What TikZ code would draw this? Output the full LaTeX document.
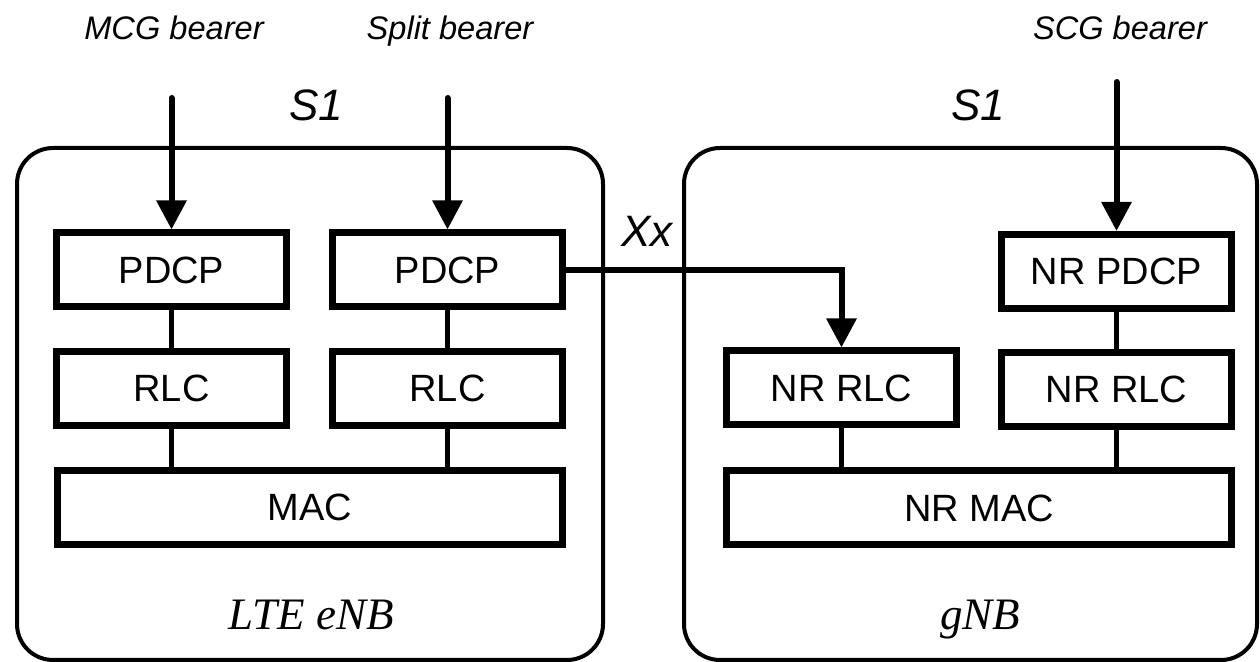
\documentclass[tikz,border=0pt]{standalone}
\usepackage{fontspec}
\setmainfont{Liberation Sans}
\newfontfamily\sitefont{Liberation Serif}
\usetikzlibrary{arrows.meta}

\begin{document}
\begin{tikzpicture}[x=0.5pt,y=-0.5pt,
    enb/.style={draw,line width=2pt,rounded corners=18pt,minimum height=256pt},
    layer/.style={draw,line width=3.5pt,minimum width=115pt,minimum height=37pt,
      inner sep=0pt,font=\fontsize{19}{19}\selectfont},
    widelayer/.style={layer,minimum width=252.5pt},
    link/.style={line width=2.5pt},
    feed/.style={line width=3pt,line cap=round,-{Triangle[length=14.5pt,width=14.5pt]}},
    bearer/.style={anchor=base,font=\fontsize{16.3}{16}\selectfont\itshape},
    iface/.style={anchor=base,font=\fontsize{22}{22}\selectfont\itshape},
    site/.style={anchor=base,font=\fontsize{22.5}{22}\sitefont\itshape}]
  \useasboundingbox (0,0) rectangle (1260,662);
  % the two base stations
  \node[enb,minimum width=293pt] (lte) at (310,404) {};
  \node[enb,minimum width=286.5pt] (gnb) at (970.5,404) {};
  \node[site] (ltename) at (311,630) {LTE eNB};
  \node[site] (gnbname) at (980,630) {gNB};
  % LTE stack
  \node[layer] (pdcpA) at (171.5,270) {PDCP};
  \node[layer] (pdcpB) at (447.5,270) {PDCP};
  \node[layer] (rlcA) at (171.5,388.5) {RLC};
  \node[layer] (rlcB) at (447.5,388.5) {RLC};
  \node[widelayer] (mac) at (310,507.5) {MAC};
  % NR stack
  \node[layer] (nrpdcp) at (1116.5,271.5) {NR PDCP};
  \node[layer] (nrrlcA) at (841.5,388) {NR RLC};
  \node[layer] (nrrlcB) at (1116.5,389.5) {NR RLC};
  \node[widelayer] (nrmac) at (979,508) {NR MAC};
  % bearers
  \node[bearer] (mcg) at (174,40) {MCG bearer};
  \node[bearer] (split) at (450,40) {Split bearer};
  \node[bearer] (scg) at (1120,40) {SCG bearer};
  \node[iface] (s1A) at (316,121) {S1};
  \node[iface] (s1B) at (978,121) {S1};
  \node[iface] (xx) at (647,247) {Xx};
  \coordinate (mcgin) at (171.5,98);
  \coordinate (splitin) at (447.5,98);
  \coordinate (scgin) at (1116.5,82);
  \draw[feed] (mcgin) -- (pdcpA.north);
  \draw[feed] (splitin) -- (pdcpB.north);
  \draw[feed] (scgin) -- (nrpdcp.north);
  \draw[feed,line cap=butt] (pdcpB.east) -| (nrrlcA.north);
  % links between layers
  \draw[link] (pdcpA) -- (rlcA);
  \draw[link] (pdcpB) -- (rlcB);
  \draw[link] (rlcA.south) -- (rlcA.south |- mac.north);
  \draw[link] (rlcB.south) -- (rlcB.south |- mac.north);
  \draw[link] (nrpdcp) -- (nrrlcB);
  \draw[link] (nrrlcA.south) -- (nrrlcA.south |- nrmac.north);
  \draw[link] (nrrlcB.south) -- (nrrlcB.south |- nrmac.north);
\end{tikzpicture}
\end{document}
